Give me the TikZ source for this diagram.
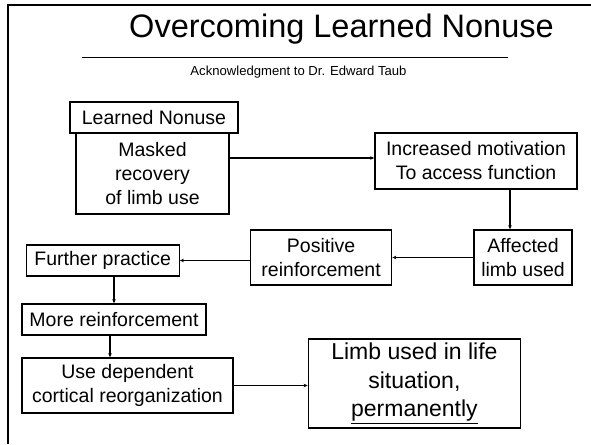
\documentclass[tikz,border=0pt]{standalone}
\usepackage{fontspec}
\setmainfont{Liberation Sans}
\usetikzlibrary{positioning,arrows.meta}
\tikzset{
    base/.style={font=\fontsize{19.5}{24}\selectfont, align=center, text=black},
    box/.style={base, rectangle, draw=black, line width=1.4pt, inner sep=2pt},
    flow/.style={-{Stealth[length=4pt,width=3.5pt]}, line width=1.1pt, color=black},
    rule/.style={line width=1.5pt}
}

\begin{document}
\begin{tikzpicture}[x=1pt, y=-1pt]
  \useasboundingbox (0,0) rectangle (591,444);

  % Slide frame
  \draw[line width=2.2pt] (8,444) -- (8,5) -- (591,5);

  % Heading
  \node[font=\fontsize{32.5}{38}\selectfont, anchor=base] (title) at (341.5,37.5) {Overcoming Learned Nonuse};
  \draw[rule] (82,57.5) -- (508,57.5);
  \node[font=\fontsize{13.1}{16}\selectfont, anchor=base] (ack) at (298.5,75.5) {Acknowledgment to Dr. Edward Taub};

  % Top row
  \node[box, minimum width=168pt, minimum height=31pt] (nonuse) at (154,117.5) {Learned Nonuse};
  \node[box, minimum width=153pt, minimum height=81pt, below=-1.4pt of nonuse, xshift=-1.5pt] (masked) {Masked\\recovery\\of limb use};
  \node[box, minimum width=202pt, minimum height=56pt] (motivation) at (476,161) {Increased motivation\\To access function};

  % Middle row
  \node[box, minimum width=98pt, minimum height=55pt] (affected) at (523,257.5) {Affected\\limb used};
  \node[box, minimum width=141pt, minimum height=55pt, left=81pt of affected] (positive) {Positive\\reinforcement};
  \node[box, minimum width=153pt, minimum height=31pt, left=70pt of positive, yshift=-3pt] (practice) {Further practice};

  % Bottom rows
  \node[box, minimum width=184pt, minimum height=31pt] (more) at (114,319.5) {More reinforcement};
  \node[box, minimum width=211pt, minimum height=55pt] (cortical) at (127.5,385.5) {Use dependent\\cortical reorganization};
  \node[box, minimum width=212pt, minimum height=89pt, right=74pt of cortical, yshift=2pt,
        font=\fontsize{23}{28.5}\selectfont] (life) {Limb used in life\\situation,\\\underline{permanently}};

  % Arrows
  \draw[flow] ([yshift=3pt]masked.east |- motivation.west) -- ([yshift=3pt]motivation.west);
  \draw[flow] ([xshift=34pt]motivation.south) -- ([xshift=34pt]motivation.south |- affected.north);
  \draw[flow] (affected.west) -- (positive.east);
  \draw[flow] (positive.west |- practice.east) -- (practice.east);
  \draw[flow] (practice.south -| more.north) -- (more.north);
  \draw[flow] ([xshift=-4pt]more.south) -- ([xshift=-4pt]more.south |- cortical.north);
  \draw[flow] (cortical.east) -- (cortical.east -| life.west);
\end{tikzpicture}
\end{document}
